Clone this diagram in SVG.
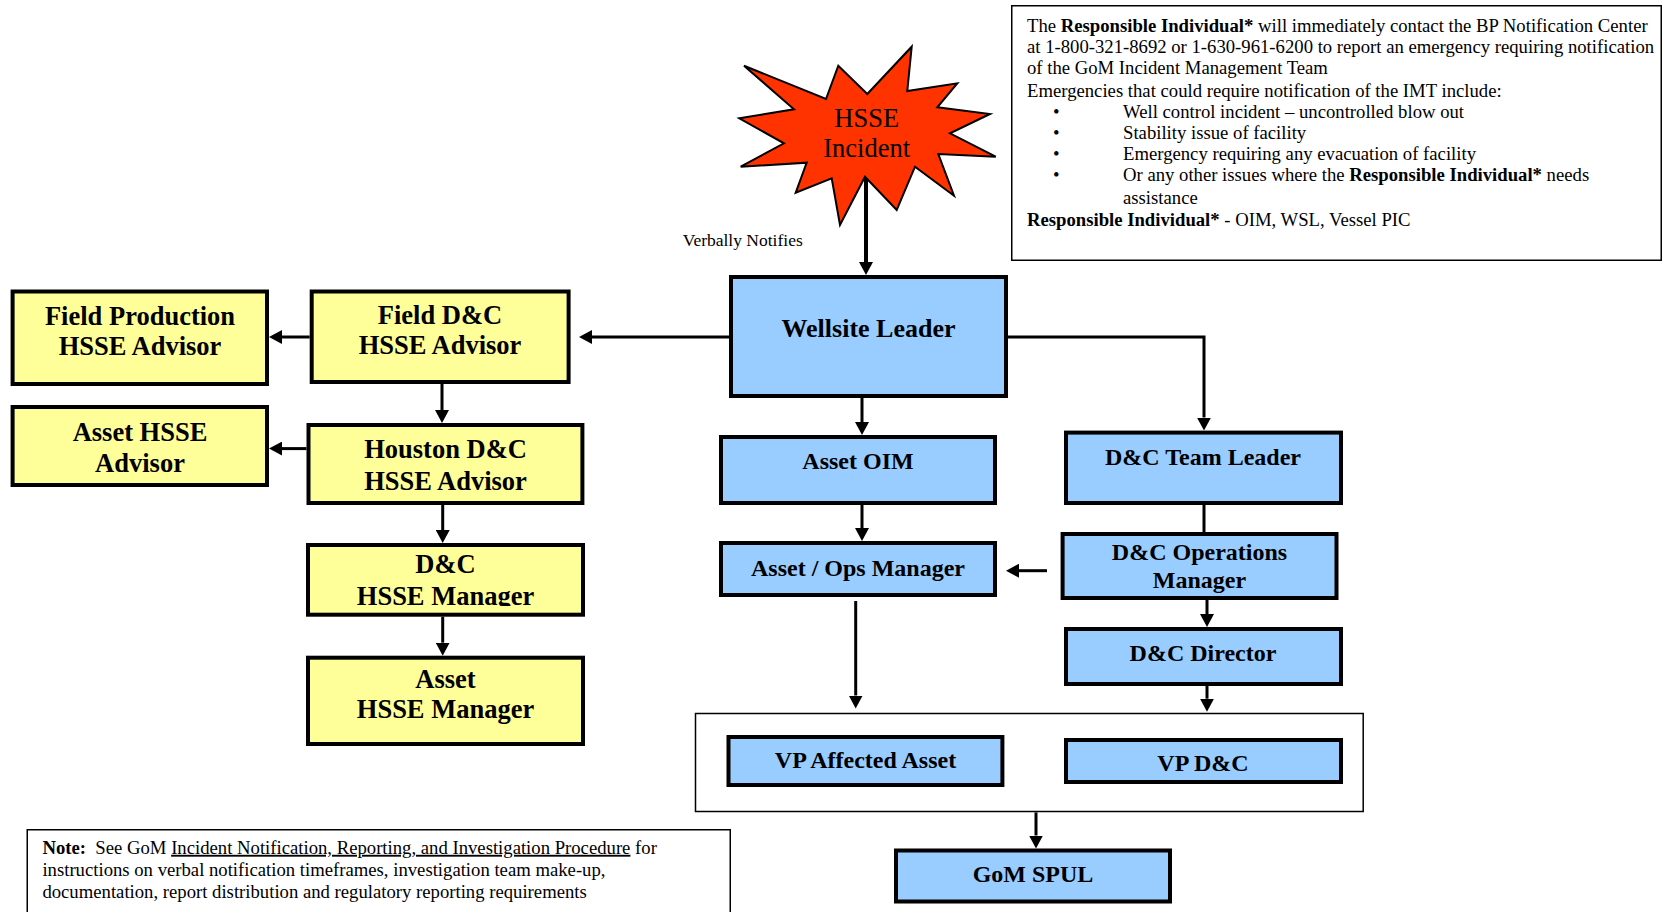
<svg xmlns="http://www.w3.org/2000/svg" width="1663" height="912" viewBox="0 0 1663 912">
<style>
  .y { fill:#FFFF99; stroke:#000; stroke-width:4; }
  .b { fill:#99CCFF; stroke:#000; stroke-width:4; }
  .thin { fill:#fff; stroke:#000; stroke-width:1.5; }
  .lbl { font-family:"Liberation Serif","Times New Roman",serif; font-weight:bold; fill:#000; text-anchor:middle; }
  .yl { font-size:26.5px; }
  .bl { font-size:24px; }
  .txt { font-family:"Liberation Serif","Times New Roman",serif; font-size:18.7px; fill:#000; }
  .con { fill:none; stroke:#000; stroke-width:3; }
</style>
<defs>
  <marker id="ah" viewBox="0 0 13 14" refX="0" refY="7" markerWidth="13" markerHeight="14" markerUnits="userSpaceOnUse" orient="auto">
    <path d="M0,0 L13,7 L0,14 z" fill="#000"/>
  </marker>
  <clipPath id="clipMgr"><rect x="300" y="540" width="300" height="66"/></clipPath>
</defs>
<rect width="1663" height="912" fill="#fff"/>

<g id="info">
  <rect class="thin" x="1011.75" y="5.75" width="649.5" height="254.5"/>
  <text class="txt" x="1027" y="31.8">The <tspan font-weight="bold">Responsible Individual*</tspan> will immediately contact the BP Notification Center</text>
  <text class="txt" x="1027" y="53">at 1-800-321-8692 or 1-630-961-6200 to report an emergency requiring notification</text>
  <text class="txt" x="1027" y="74.2">of the GoM Incident Management Team</text>
  <text class="txt" x="1027" y="96.5">Emergencies that could require notification of the IMT include:</text>
  <text class="txt" x="1053" y="117.7">•</text>
  <text class="txt" x="1123" y="117.7">Well control incident – uncontrolled blow out</text>
  <text class="txt" x="1053" y="139">•</text>
  <text class="txt" x="1123" y="139">Stability issue of facility</text>
  <text class="txt" x="1053" y="160">•</text>
  <text class="txt" x="1123" y="160">Emergency requiring any evacuation of facility</text>
  <text class="txt" x="1053" y="181.4">•</text>
  <text class="txt" x="1123" y="181.4">Or any other issues where the <tspan font-weight="bold">Responsible Individual*</tspan> needs</text>
  <text class="txt" x="1123" y="203.6">assistance</text>
  <text class="txt" x="1027" y="226"><tspan font-weight="bold">Responsible Individual*</tspan> - OIM, WSL, Vessel PIC</text>
</g>

<g id="note">
  <rect class="thin" x="27.25" y="829.75" width="703" height="100"/>
  <text class="txt" x="42.4" y="853.8"><tspan font-weight="bold">Note:</tspan><tspan dx="4.7"> See GoM </tspan><tspan text-decoration="underline">Incident Notification, Reporting, and Investigation Procedure</tspan> for</text>
  <text class="txt" x="42.4" y="876">instructions on verbal notification timeframes, investigation team make-up,</text>
  <text class="txt" x="42.4" y="898.3">documentation, report distribution and regulatory reporting requirements</text>
</g>

<g id="incident">
  <polygon points="744,65.7 826,99 838.3,65.7 867.3,94 911.7,46.7 907.3,91 957.3,83.3 937.3,107.3 990,114 950,133.3 995.7,156.7 938.3,154 954,195.7 915,166.7 896.7,210 865,176.7 840,225 831.7,178.3 795.7,192.7 806.7,162.7 740.7,166.7 784,143.3 739.3,118.3 794,109.3" fill="#FF3300" stroke="#000" stroke-width="2"/>
  <text x="866.7" y="126.7" font-family="Liberation Serif, serif" font-size="26.5" text-anchor="middle">HSSE</text>
  <text x="866.7" y="156.7" font-family="Liberation Serif, serif" font-size="26.5" text-anchor="middle">Incident</text>
</g>

<g id="connectors">
  <path d="M866,178 V262" fill="none" stroke="#000" stroke-width="4" marker-end="url(#ah)"/>
  <text class="txt" x="682.7" y="246" style="font-size:17.5px">Verbally Notifies</text>
  <path class="con" d="M729,337 H592" marker-end="url(#ah)"/>
  <path class="con" d="M309.7,337 H282" marker-end="url(#ah)"/>
  <path class="con" d="M306.5,448.6 H282" marker-end="url(#ah)"/>
  <path class="con" d="M442,384 V410" marker-end="url(#ah)"/>
  <path class="con" d="M442.7,505 V530" marker-end="url(#ah)"/>
  <path class="con" d="M442.7,616.7 V642.7" marker-end="url(#ah)"/>
  <path class="con" d="M862,398 V422" marker-end="url(#ah)"/>
  <path class="con" d="M862,505 V528" marker-end="url(#ah)"/>
  <path class="con" d="M855.7,601 V695.5" marker-end="url(#ah)"/>
  <path class="con" d="M1008,337 H1204 V417.6" marker-end="url(#ah)"/>
  <path class="con" d="M1204,505 V532"/>
  <path class="con" d="M1047,570.7 H1019" marker-end="url(#ah)"/>
  <path class="con" d="M1207,600 V614" marker-end="url(#ah)"/>
  <path class="con" d="M1207,686 V698.7" marker-end="url(#ah)"/>
  <path class="con" d="M1036,812.4 V835.5" marker-end="url(#ah)"/>
</g>

<g id="field-production">
  <rect class="y" x="12.6" y="291.5" width="254.4" height="92.5"/>
  <text class="lbl yl" x="140" y="324.5">Field Production</text>
  <text class="lbl yl" x="140" y="355">HSSE Advisor</text>
</g>
<g id="field-dc">
  <rect class="y" x="311.7" y="291.5" width="256.9" height="90.5"/>
  <text class="lbl yl" x="440" y="323.5">Field D&amp;C</text>
  <text class="lbl yl" x="440" y="354">HSSE Advisor</text>
</g>
<g id="asset-hsse-advisor">
  <rect class="y" x="12.6" y="407" width="254.4" height="78"/>
  <text class="lbl yl" x="140" y="441">Asset HSSE</text>
  <text class="lbl yl" x="140" y="472">Advisor</text>
</g>
<g id="houston-dc">
  <rect class="y" x="308.5" y="425" width="273.9" height="78"/>
  <text class="lbl yl" x="445.5" y="458">Houston D&amp;C</text>
  <text class="lbl yl" x="445.5" y="490">HSSE Advisor</text>
</g>
<g id="dc-hsse-manager">
  <rect class="y" x="308" y="545" width="275" height="69.7"/>
  <g clip-path="url(#clipMgr)">
    <text class="lbl yl" x="445.5" y="573.3">D&amp;C</text>
    <text class="lbl yl" x="445.5" y="605">HSSE Manager</text>
  </g>
</g>
<g id="asset-hsse-manager">
  <rect class="y" x="308" y="657.7" width="275" height="86.3"/>
  <text class="lbl yl" x="445.5" y="688.3">Asset</text>
  <text class="lbl yl" x="445.5" y="717.7">HSSE Manager</text>
</g>

<g id="wellsite-leader">
  <rect class="b" x="731" y="277" width="275" height="119"/>
  <text class="lbl" x="868.5" y="336.7" style="font-size:26px">Wellsite Leader</text>
</g>
<g id="asset-oim">
  <rect class="b" x="721" y="437" width="274" height="66"/>
  <text class="lbl bl" x="858" y="469">Asset OIM</text>
</g>
<g id="asset-ops-manager">
  <rect class="b" x="721" y="543" width="274" height="52"/>
  <text class="lbl bl" x="858" y="576">Asset / Ops Manager</text>
</g>
<g id="dc-team-leader">
  <rect class="b" x="1066" y="432.6" width="275" height="70.4"/>
  <text class="lbl bl" x="1203" y="464.5">D&amp;C Team Leader</text>
</g>
<g id="dc-operations-manager">
  <rect class="b" x="1062.6" y="534" width="273.9" height="64"/>
  <text class="lbl bl" x="1199.5" y="560">D&amp;C Operations</text>
  <text class="lbl bl" x="1199.5" y="587.6">Manager</text>
</g>
<g id="dc-director">
  <rect class="b" x="1066" y="629" width="275" height="55"/>
  <text class="lbl bl" x="1203" y="661">D&amp;C Director</text>
</g>
<g id="vp-group">
  <rect class="thin" x="695.5" y="713.5" width="667.7" height="98"/>
</g>
<g id="vp-affected-asset">
  <rect class="b" x="728.5" y="737" width="273.9" height="48"/>
  <text class="lbl bl" x="865.5" y="768">VP Affected Asset</text>
</g>
<g id="vp-dc">
  <rect class="b" x="1066" y="740" width="275" height="42"/>
  <text class="lbl bl" x="1203" y="771">VP D&amp;C</text>
</g>
<g id="gom-spul">
  <rect class="b" x="896" y="850.5" width="274" height="51"/>
  <text class="lbl bl" x="1033" y="882.4">GoM SPUL</text>
</g>
</svg>
